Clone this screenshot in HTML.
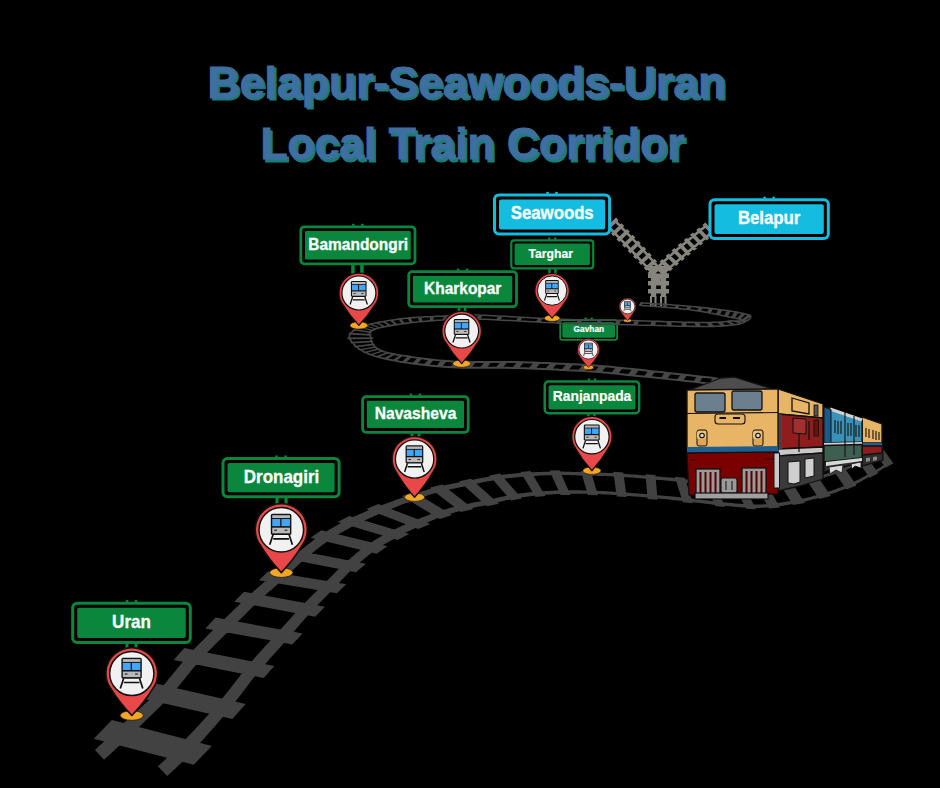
<!DOCTYPE html>
<html><head><meta charset="utf-8"><style>
html,body{margin:0;padding:0;background:#000;width:940px;height:788px;overflow:hidden}
svg{display:block;font-family:"Liberation Sans",sans-serif}
</style></head><body>
<svg width="940" height="788" viewBox="0 0 940 788">
<rect width="940" height="788" fill="#000"/>
<text x="209.7" y="100.4" font-size="44.5" textLength="518" lengthAdjust="spacingAndGlyphs" fill="#1c7d78" stroke="#1c7d78" stroke-width="1.1" font-family="Liberation Sans, sans-serif" font-weight="bold">Belapur-Seawoods-Uran</text>
<text x="262.7" y="162.1" font-size="44.5" textLength="424" lengthAdjust="spacingAndGlyphs" fill="#1c7d78" stroke="#1c7d78" stroke-width="1.1" font-family="Liberation Sans, sans-serif" font-weight="bold">Local Train Corridor</text>
<text x="207.5" y="97.6" font-size="44.5" textLength="518" lengthAdjust="spacingAndGlyphs" fill="#3d6fa0" stroke="#3d6fa0" stroke-width="1.1" font-family="Liberation Sans, sans-serif" font-weight="bold">Belapur-Seawoods-Uran</text>
<text x="260.5" y="159.3" font-size="44.5" textLength="424" lengthAdjust="spacingAndGlyphs" fill="#3d6fa0" stroke="#3d6fa0" stroke-width="1.1" font-family="Liberation Sans, sans-serif" font-weight="bold">Local Train Corridor</text>
<g font-family="Liberation Sans, sans-serif">
<path fill="#85857d" d="M609.8 226.1 L611 227.4 L612.6 229.1 L614.4 230.9 L616.5 233.1 L618.8 235.4 L621.1 237.8 L623.6 240.4 L626.1 243 L628.7 245.6 L631.1 248.2 L633.5 250.7 L635.8 253.2 L638 255.6 L640.4 258.1 L642.9 260.8 L645.4 263.6 L647.9 266.3 L650.3 269.1 L652.7 271.7 L654.9 274.2 L657 276.5 L658.8 278.5 L660.4 280.2 L661.6 281.6 L659.8 283.2 L658.5 281.9 L657 280.2 L655.1 278.1 L653.1 275.9 L650.8 273.4 L648.4 270.8 L646 268 L643.5 265.3 L640.9 262.6 L638.5 259.9 L636.1 257.3 L633.8 255 L631.6 252.6 L629.2 250 L626.8 247.5 L624.2 244.8 L621.7 242.2 L619.2 239.7 L616.9 237.2 L614.6 234.9 L612.5 232.8 L610.7 230.9 L609.1 229.3 L607.9 228Z M616.1 220 L617.4 221.3 L619 222.9 L620.8 224.8 L622.9 226.9 L625.1 229.3 L627.5 231.7 L630 234.3 L632.5 236.9 L635 239.5 L637.5 242.1 L639.9 244.6 L642.2 247 L644.4 249.5 L646.8 252.2 L649.3 255 L651.8 257.9 L654.3 260.8 L656.8 263.6 L659.2 266.4 L661.5 269 L663.5 271.4 L665.4 273.5 L667 275.3 L668.2 276.8 L666.4 278.4 L665.1 277 L663.5 275.1 L661.7 273 L659.6 270.6 L657.3 268 L654.9 265.3 L652.4 262.5 L649.9 259.6 L647.4 256.8 L644.9 254 L642.5 251.3 L640.2 248.8 L638 246.4 L635.6 243.9 L633.1 241.3 L630.6 238.7 L628.1 236.1 L625.6 233.5 L623.2 231.1 L621 228.8 L618.9 226.7 L617.1 224.8 L615.5 223.2 L614.2 221.9Z M605.4 227.7 L616 217.5 L618.6 220.3 L608 230.5Z M611 233.5 L621.6 223.3 L624.2 226 L613.6 236.2Z M616.5 239.2 L627.1 229 L629.8 231.7 L619.2 241.9Z M622.1 244.9 L632.7 234.7 L635.3 237.5 L624.7 247.7Z M627.6 250.7 L638.2 240.5 L640.8 243.3 L630.2 253.5Z M633.1 256.5 L643.7 246.4 L646.3 249.2 L635.7 259.3Z M638.5 262.2 L649.2 252.5 L651.7 255.4 L641 265Z M643.8 267.9 L654.6 258.7 L657.1 261.5 L646.3 270.8Z M649.1 273.7 L659.9 264.9 L662.4 267.7 L651.6 276.6Z M654.3 279.5 L665.3 271.1 L667.8 273.9 L656.8 282.3Z"/>
<path fill="#85857d" d="M706.8 226.8 L705.3 228 L703.6 229.4 L701.5 231.1 L699.2 233 L696.7 235.1 L694 237.3 L691.2 239.6 L688.4 241.9 L685.6 244.2 L682.9 246.5 L680.2 248.7 L677.8 250.8 L675.3 253 L672.7 255.3 L670 257.8 L667.3 260.2 L664.5 262.7 L661.8 265.2 L659.3 267.5 L656.8 269.8 L654.6 271.8 L652.6 273.7 L650.9 275.2 L649.5 276.5 L647.9 274.7 L649.2 273.4 L650.9 271.8 L652.9 270 L655.2 267.9 L657.6 265.6 L660.1 263.3 L662.8 260.8 L665.5 258.3 L668.3 255.8 L671 253.4 L673.6 251 L676 248.8 L678.5 246.7 L681.2 244.5 L683.9 242.2 L686.7 239.8 L689.5 237.5 L692.3 235.2 L695 233 L697.5 231 L699.8 229.1 L701.9 227.4 L703.7 225.9 L705.1 224.8Z M712.9 233.2 L711.5 234.4 L709.8 235.8 L707.7 237.5 L705.4 239.4 L702.9 241.5 L700.2 243.6 L697.4 245.9 L694.6 248.2 L691.8 250.6 L689.1 252.9 L686.4 255.1 L684 257.2 L681.5 259.2 L678.9 261.4 L676.3 263.7 L673.6 266.1 L670.9 268.4 L668.2 270.7 L665.7 273 L663.3 275.1 L661.1 277 L659.1 278.7 L657.5 280.2 L656.1 281.3 L654.5 279.5 L655.8 278.3 L657.5 276.9 L659.4 275.2 L661.6 273.2 L664 271.1 L666.5 268.8 L669.2 266.5 L671.9 264.1 L674.6 261.8 L677.2 259.5 L679.8 257.2 L682.2 255.2 L684.7 253.1 L687.3 250.8 L690.1 248.5 L692.9 246.2 L695.7 243.9 L698.5 241.6 L701.2 239.4 L703.7 237.3 L706 235.4 L708.1 233.7 L709.8 232.3 L711.2 231.2Z M705.3 222.5 L715.6 233.1 L712.7 235.5 L702.4 224.9Z M699.1 227.6 L709.4 238.2 L706.5 240.6 L696.2 230Z M692.9 232.6 L703.2 243.2 L700.3 245.6 L690 235Z M686.8 237.7 L697.1 248.3 L694.1 250.7 L683.8 240.1Z M680.6 242.8 L690.9 253.4 L688 255.9 L677.7 245.3Z M674.5 248.1 L684.8 258.5 L682 261 L671.6 250.6Z M668.4 253.6 L678.9 263.5 L676 266.1 L665.6 256.1Z M662.4 259.1 L673 268.6 L670.1 271.2 L659.5 261.7Z M656.3 264.8 L667.1 273.7 L664.3 276.3 L653.5 267.3Z M650.3 270.4 L661.2 278.8 L658.4 281.3 L647.5 273Z"/>
<path fill="#85857d" d="M656.2 268 L656.2 268.8 L656.2 269.9 L656.2 271.2 L656.2 272.6 L656.2 274.1 L656.2 275.8 L656.2 277.4 L656.2 279.1 L656.2 280.7 L656.2 282.3 L656.2 283.7 L656.2 285 L656.2 286.2 L656.2 287.4 L656.2 288.6 L656.2 289.8 L656.2 291 L656.2 292.1 L656.2 293.1 L656.2 294.1 L656.2 295 L656.2 295.8 L656.2 296.4 L656.2 297 L650.9 297 L650.9 296.4 L650.9 295.8 L650.9 295 L650.9 294.1 L650.9 293.1 L650.9 292.1 L650.9 291 L650.9 289.8 L650.9 288.6 L650.9 287.4 L650.9 286.2 L650.9 285 L650.9 283.7 L650.9 282.3 L650.9 280.7 L650.9 279.1 L650.9 277.4 L650.9 275.8 L650.9 274.1 L650.9 272.6 L650.9 271.2 L650.9 269.9 L650.9 268.8 L650.9 268Z M666.1 268 L666.1 268.8 L666.1 269.9 L666.1 271.2 L666.1 272.6 L666.1 274.1 L666.1 275.8 L666.1 277.4 L666.1 279.1 L666.1 280.7 L666.1 282.3 L666.1 283.7 L666.1 285 L666.1 286.2 L666.1 287.4 L666.1 288.6 L666.1 289.8 L666.1 291 L666.1 292.1 L666.1 293.1 L666.1 294.1 L666.1 295 L666.1 295.8 L666.1 296.4 L666.1 297 L660.8 297 L660.8 296.4 L660.8 295.8 L660.8 295 L660.8 294.1 L660.8 293.1 L660.8 292.1 L660.8 291 L660.8 289.8 L660.8 288.6 L660.8 287.4 L660.8 286.2 L660.8 285 L660.8 283.7 L660.8 282.3 L660.8 280.7 L660.8 279.1 L660.8 277.4 L660.8 275.8 L660.8 274.1 L660.8 272.6 L660.8 271.2 L660.8 269.9 L660.8 268.8 L660.8 268Z M648 265.8 L669 265.8 L669 270.2 L648 270.2Z M648 273.4 L669 273.4 L669 277.9 L648 277.9Z M648 281.1 L669 281.1 L669 285.6 L648 285.6Z M648 288.9 L669 288.9 L669 293.4 L648 293.4Z"/>
<path d="M651 296 V306.5 M655.5 296 V306.5 M661 296 V306.5 M665.5 296 V306.5" stroke="#85857d" stroke-width="2"/>
</g>
<g font-family="Liberation Sans, sans-serif">
<rect x="71.2" y="601.7" width="120.6" height="42.4" rx="6" fill="#0a873c"/>
<rect x="74.2" y="604.7" width="114.6" height="36.4" rx="3" fill="#000"/>
<rect x="77.2" y="607.7" width="108.6" height="30.4" rx="2" fill="#0a873c"/>
<text x="112.1" y="627.9" font-size="18.5" textLength="38.8" lengthAdjust="spacingAndGlyphs" fill="#fff" stroke="#fff" stroke-width="0.3" font-weight="bold">Uran</text>
<rect x="221.5" y="457.1" width="119.1" height="41.2" rx="6" fill="#0a873c"/>
<rect x="224.5" y="460.1" width="113.1" height="35.2" rx="3" fill="#000"/>
<rect x="227.5" y="463.1" width="107.1" height="29.2" rx="2" fill="#0a873c"/>
<text x="243.8" y="482.6" font-size="18.2" textLength="75.5" lengthAdjust="spacingAndGlyphs" fill="#fff" stroke="#fff" stroke-width="0.3" font-weight="bold">Dronagiri</text>
<rect x="361.2" y="395.2" width="108.4" height="38.5" rx="5" fill="#0a873c"/>
<rect x="364" y="398" width="102.8" height="32.9" rx="2.2" fill="#000"/>
<rect x="366.8" y="400.8" width="97.2" height="27.3" rx="1.4" fill="#0a873c"/>
<text x="374.7" y="418.9" font-size="16.7" textLength="81.7" lengthAdjust="spacingAndGlyphs" fill="#fff" stroke="#fff" stroke-width="0.3" font-weight="bold">Navasheva</text>
<rect x="543.5" y="380.2" width="96.9" height="34.3" rx="5" fill="#0a873c"/>
<rect x="546" y="382.7" width="91.9" height="29.3" rx="2.5" fill="#000"/>
<rect x="548.5" y="385.2" width="86.9" height="24.3" rx="2" fill="#0a873c"/>
<text x="552.8" y="401.2" font-size="14.2" textLength="78.5" lengthAdjust="spacingAndGlyphs" fill="#fff" stroke="#fff" stroke-width="0.2" font-weight="bold">Ranjanpada</text>
<rect x="407.3" y="270.2" width="110.6" height="37.9" rx="5" fill="#0a873c"/>
<rect x="410.1" y="273" width="105" height="32.3" rx="2.2" fill="#000"/>
<rect x="412.9" y="275.8" width="99.4" height="26.7" rx="1.4" fill="#0a873c"/>
<text x="424.1" y="293.5" font-size="16.3" textLength="77.3" lengthAdjust="spacingAndGlyphs" fill="#fff" stroke="#fff" stroke-width="0.3" font-weight="bold">Kharkopar</text>
<rect x="299.4" y="225.4" width="117" height="39.8" rx="5" fill="#0a873c"/>
<rect x="302.2" y="228.2" width="111.4" height="34.2" rx="2.2" fill="#000"/>
<rect x="305" y="231" width="105.8" height="28.6" rx="1.4" fill="#0a873c"/>
<text x="308.3" y="249.5" font-size="15.6" textLength="99.7" lengthAdjust="spacingAndGlyphs" fill="#fff" stroke="#fff" stroke-width="0.3" font-weight="bold">Bamandongri</text>
<rect x="510.2" y="239.2" width="84.1" height="30.2" rx="4" fill="#0a873c"/>
<rect x="512.4" y="241.4" width="79.7" height="25.8" rx="1.8" fill="#000"/>
<rect x="514.6" y="243.6" width="75.3" height="21.4" rx="1.6" fill="#0a873c"/>
<text x="528.5" y="257.7" font-size="12.8" textLength="44.4" lengthAdjust="spacingAndGlyphs" fill="#fff" stroke="#fff" stroke-width="0.2" font-weight="bold">Targhar</text>
<rect x="559.3" y="319.2" width="58.7" height="21.5" rx="3" fill="#0a873c"/>
<rect x="561.1" y="321" width="55.1" height="17.9" rx="1.2" fill="#000"/>
<rect x="562.3" y="322.2" width="52.7" height="15.5" rx="2" fill="#0a873c"/>
<text x="573.6" y="332.3" font-size="8.7" textLength="30.5" lengthAdjust="spacingAndGlyphs" fill="#fff" stroke="#fff" stroke-width="0.2" font-weight="bold">Gavhan</text>
<rect x="493" y="193.5" width="118.1" height="42.1" rx="6" fill="#14bde0"/>
<rect x="496" y="196.5" width="112.1" height="36.1" rx="3" fill="#000"/>
<rect x="499" y="199.5" width="106.1" height="30.1" rx="2" fill="#14bde0"/>
<text x="510.8" y="219.4" font-size="18" textLength="82.9" lengthAdjust="spacingAndGlyphs" fill="#fff" stroke="#fff" stroke-width="0.3" font-weight="bold">Seawoods</text>
<rect x="708.5" y="198.3" width="121.3" height="41.6" rx="6" fill="#14bde0"/>
<rect x="711.5" y="201.3" width="115.3" height="35.6" rx="3" fill="#000"/>
<rect x="714.5" y="204.3" width="109.3" height="29.6" rx="2" fill="#14bde0"/>
<text x="737.9" y="224.1" font-size="18.6" textLength="62.5" lengthAdjust="spacingAndGlyphs" fill="#fff" stroke="#fff" stroke-width="0.3" font-weight="bold">Belapur</text>
<rect x="125.5" y="644" width="3" height="6" fill="#0a873c"/><rect x="134.5" y="644" width="3" height="6" fill="#0a873c"/>
<rect x="275.4" y="498" width="3.2" height="7" fill="#0a873c"/><rect x="284.4" y="498" width="3.2" height="7" fill="#0a873c"/>
<rect x="410.5" y="433.5" width="3" height="4.5" fill="#0a873c"/><rect x="417.5" y="433.5" width="3" height="4.5" fill="#0a873c"/>
<rect x="587.2" y="414" width="2.5" height="4" fill="#0a873c"/><rect x="593.2" y="414" width="2.5" height="4" fill="#0a873c"/>
<rect x="457.8" y="308" width="2.5" height="4" fill="#0a873c"/><rect x="463.8" y="308" width="2.5" height="4" fill="#0a873c"/>
<rect x="351.2" y="265" width="3.5" height="9" fill="#0a873c"/><rect x="360.2" y="265" width="3.5" height="9" fill="#0a873c"/>
<rect x="548.2" y="269" width="2.5" height="5" fill="#0a873c"/><rect x="554.2" y="269" width="2.5" height="5" fill="#0a873c"/>
<rect x="125.8" y="600.1" width="2.5" height="2" fill="#0a873c"/><rect x="134.8" y="600.1" width="2.5" height="2" fill="#0a873c"/>
<rect x="275.3" y="455.5" width="2.5" height="2" fill="#0a873c"/><rect x="284.3" y="455.5" width="2.5" height="2" fill="#0a873c"/>
<rect x="409.6" y="393.6" width="2.5" height="2" fill="#0a873c"/><rect x="418.6" y="393.6" width="2.5" height="2" fill="#0a873c"/>
<rect x="587.7" y="378.6" width="2.5" height="2" fill="#0a873c"/><rect x="593.7" y="378.6" width="2.5" height="2" fill="#0a873c"/>
<rect x="456.9" y="268.6" width="2.5" height="2" fill="#0a873c"/><rect x="465.9" y="268.6" width="2.5" height="2" fill="#0a873c"/>
<rect x="352.1" y="223.8" width="2.5" height="2" fill="#0a873c"/><rect x="361.1" y="223.8" width="2.5" height="2" fill="#0a873c"/>
<rect x="548" y="237.6" width="2.5" height="2" fill="#0a873c"/><rect x="554" y="237.6" width="2.5" height="2" fill="#0a873c"/>
<rect x="584.4" y="317.6" width="2.5" height="2" fill="#0a873c"/><rect x="590.4" y="317.6" width="2.5" height="2" fill="#0a873c"/>
<rect x="546.3" y="191.9" width="2.5" height="2" fill="#14bde0"/><rect x="555.3" y="191.9" width="2.5" height="2" fill="#14bde0"/>
<rect x="763.4" y="196.7" width="2.5" height="2" fill="#14bde0"/><rect x="772.4" y="196.7" width="2.5" height="2" fill="#14bde0"/>
</g>
<path fill="#474747" d="M712.3 384.8 L708.6 384.4 L703.9 383.9 L698.3 383.3 L692.1 382.6 L685.3 381.9 L678.2 381.1 L670.9 380.3 L663.6 379.6 L656.5 378.8 L649.7 378.1 L643.3 377.4 L637.6 376.9 L632.6 376.4 L627.9 375.9 L623.5 375.4 L619.4 375 L615.4 374.6 L611.5 374.2 L607.6 373.8 L603.6 373.5 L599.5 373.1 L595.1 372.8 L590.5 372.5 L585.5 372.1 L580.1 371.8 L574.4 371.5 L568.4 371.2 L562.2 370.9 L555.8 370.6 L549.4 370.3 L543 370 L536.5 369.8 L530.2 369.5 L524 369.3 L518.1 369.1 L512.4 369 L506.9 368.8 L501.6 368.7 L496.4 368.7 L491.3 368.7 L486.3 368.7 L481.3 368.8 L476.5 368.8 L471.6 368.8 L466.9 368.8 L462.2 368.7 L457.6 368.5 L452.9 368.3 L448.2 368 L443.5 367.7 L438.8 367.3 L434.1 366.9 L429.6 366.4 L425 366 L420.6 365.5 L416.3 364.9 L412.2 364.4 L408.2 363.8 L404.3 363.3 L400.7 362.7 L397 362 L393.4 361.3 L390 360.7 L386.7 360 L383.6 359.3 L380.6 358.5 L377.7 357.8 L374.9 357 L372.3 356.1 L369.8 355.2 L367.5 354.3 L365.2 353.3 L363.1 352.2 L361 351 L359.1 349.8 L357.3 348.4 L355.7 347.1 L354.2 345.7 L352.9 344.3 L351.6 342.9 L350.6 341.5 L349.6 340.2 L348.8 338.9 L348.2 337.6 L348.5 336.5 L348.9 335.3 L349.4 334.2 L350.1 333.1 L350.9 332.1 L351.9 331 L353.1 330.1 L354.4 329.1 L355.9 328.2 L357.6 327.3 L359.6 326.5 L361.7 325.6 L364.1 324.9 L366.8 324.1 L369.8 323.4 L373 322.7 L376.3 322 L379.9 321.3 L383.5 320.7 L387.2 320 L391 319.4 L394.8 318.9 L398.6 318.3 L402.3 317.8 L405.9 317.4 L409.7 317.1 L413.6 316.8 L417.6 316.5 L421.6 316.3 L425.7 316.1 L429.7 315.9 L433.7 315.7 L437.6 315.5 L441.3 315.4 L444.9 315.3 L448.2 315.1 L450.9 315 L453.1 314.8 L455 314.6 L456.6 314.5 L458.1 314.4 L459.6 314.3 L461.4 314.2 L463.4 314.1 L465.9 314.1 L468.9 314.1 L472.7 314.2 L477.3 314.3 L482.9 314.5 L489.5 314.8 L496.8 315.2 L504.7 315.6 L513.1 316 L521.8 316.5 L530.5 316.9 L539.2 317.4 L547.7 317.8 L555.7 318.2 L563.1 318.6 L569.8 318.8 L575.8 319 L581.2 319.2 L586.2 319.3 L590.8 319.3 L595.2 319.4 L599.5 319.4 L603.7 319.4 L608 319.4 L612.4 319.4 L617 319.5 L621.9 319.5 L627.3 319.6 L633 319.8 L639.1 320 L645.6 320.2 L652.3 320.4 L659.2 320.6 L666.1 320.9 L672.9 321.1 L679.6 321.3 L685.9 321.4 L691.8 321.6 L697.1 321.7 L701.8 321.7 L705.9 321.7 L709.5 321.7 L712.7 321.6 L715.6 321.5 L718.1 321.4 L720.4 321.3 L722.5 321.1 L724.3 320.9 L726.1 320.7 L727.7 320.5 L729.3 320.3 L730.9 320.1 L732.7 320.2 L734.4 320.2 L736 320.3 L737.5 320.3 L738.8 320.3 L740 320.3 L741 320.3 L741.8 320.3 L742.3 320.3 L742.6 320.5 L742.7 320.8 L742.7 321.3 L742.7 321.2 L742.5 321 L741.9 320.7 L741.2 320.4 L740.2 320.1 L739 319.8 L737.6 319.4 L736 319.1 L734.3 318.7 L732.4 318.4 L730.4 318 L728.3 317.6 L725.8 317 L723.2 316.4 L720.3 315.8 L717.3 315.2 L714.1 314.6 L710.7 313.9 L707.3 313.3 L703.8 312.7 L700.1 312.1 L696.5 311.5 L692.8 310.9 L689.1 310.3 L685.2 309.9 L680.8 309.5 L676.2 309 L671.4 308.6 L666.5 308.2 L661.6 307.8 L656.9 307.4 L652.5 307 L648.4 306.7 L644.7 306.4 L641.6 306.2 L639.1 305.9 L639.3 304.5 L641.7 304.7 L644.8 304.9 L648.5 305.2 L652.6 305.5 L657 305.9 L661.8 306.3 L666.6 306.7 L671.5 307.1 L676.3 307.5 L680.9 308 L685.3 308.4 L689.3 308.9 L693 309.4 L696.7 309.9 L700.3 310.5 L704 311.1 L707.5 311.8 L711 312.4 L714.3 313 L717.5 313.7 L720.6 314.3 L723.4 314.9 L726.1 315.5 L728.5 316 L730.7 316.4 L732.7 316.8 L734.6 317.2 L736.3 317.5 L737.9 317.9 L739.3 318.2 L740.6 318.5 L741.6 318.9 L742.5 319.2 L743.2 319.6 L743.7 320 L744.1 320.5 L744.2 321 L743.9 321.4 L743.3 321.6 L742.5 321.7 L741.6 321.8 L740.5 321.8 L739.3 321.8 L737.9 321.8 L736.3 321.8 L734.7 321.8 L732.9 321.8 L731.1 321.7 L729.5 321.9 L727.9 322.1 L726.3 322.3 L724.5 322.5 L722.6 322.7 L720.5 322.9 L718.2 323 L715.6 323.1 L712.8 323.2 L709.5 323.3 L705.9 323.3 L701.8 323.3 L697.1 323.3 L691.7 323.2 L685.8 323 L679.5 322.8 L672.9 322.6 L666.1 322.4 L659.2 322.2 L652.3 321.9 L645.5 321.7 L639 321.5 L632.9 321.3 L627.3 321.1 L621.9 321 L617 321 L612.3 320.9 L608 320.9 L603.7 320.9 L599.5 320.9 L595.2 320.9 L590.8 320.8 L586.1 320.8 L581.1 320.7 L575.7 320.5 L569.7 320.3 L563.1 320.1 L555.6 319.7 L547.6 319.3 L539.1 318.9 L530.5 318.4 L521.7 318 L513 317.5 L504.7 317.1 L496.7 316.7 L489.4 316.3 L482.8 316 L477.3 315.8 L472.7 315.7 L468.9 315.6 L465.9 315.6 L463.4 315.6 L461.4 315.7 L459.7 315.8 L458.2 315.9 L456.7 316 L455.1 316.1 L453.2 316.3 L451 316.5 L448.3 316.6 L444.9 316.8 L441.4 316.9 L437.6 317.1 L433.8 317.2 L429.8 317.4 L425.8 317.6 L421.7 317.8 L417.7 318.1 L413.7 318.4 L409.9 318.7 L406.1 319 L402.5 319.4 L398.8 319.9 L395.1 320.4 L391.3 321 L387.5 321.6 L383.8 322.2 L380.2 322.9 L376.7 323.6 L373.3 324.3 L370.2 325 L367.2 325.7 L364.6 326.4 L362.3 327.2 L360.2 328 L358.4 328.8 L356.8 329.6 L355.4 330.4 L354.2 331.2 L353.2 332 L352.3 332.8 L351.6 333.6 L351 334.5 L350.5 335.4 L350.1 336.4 L349.7 337.4 L350.4 338.4 L351.1 339.6 L352 340.8 L353 342.1 L354.2 343.3 L355.5 344.7 L356.9 346 L358.4 347.3 L360.1 348.5 L361.9 349.7 L363.9 350.8 L366 351.9 L368.1 352.8 L370.4 353.7 L372.8 354.6 L375.4 355.4 L378.1 356.1 L381 356.9 L384 357.6 L387.1 358.3 L390.4 358.9 L393.8 359.6 L397.3 360.3 L400.9 360.9 L404.6 361.5 L408.4 362 L412.4 362.6 L416.6 363.1 L420.9 363.6 L425.3 364.1 L429.7 364.5 L434.3 365 L439 365.4 L443.6 365.7 L448.3 366 L453.1 366.3 L457.6 366.5 L462.2 366.7 L466.9 366.8 L471.6 366.8 L476.4 366.8 L481.3 366.8 L486.3 366.7 L491.3 366.7 L496.4 366.7 L501.6 366.7 L507 366.8 L512.4 367 L518.1 367.1 L524.1 367.3 L530.3 367.5 L536.6 367.8 L543 368 L549.5 368.3 L555.9 368.6 L562.3 368.9 L568.5 369.2 L574.5 369.5 L580.2 369.8 L585.6 370.2 L590.6 370.5 L595.3 370.8 L599.6 371.1 L603.8 371.5 L607.8 371.8 L611.7 372.2 L615.6 372.6 L619.6 373 L623.7 373.4 L628.1 373.9 L632.8 374.4 L637.8 374.9 L643.5 375.4 L649.9 376.1 L656.7 376.8 L663.9 377.6 L671.2 378.4 L678.4 379.1 L685.5 379.9 L692.3 380.6 L698.5 381.3 L704.1 381.9 L708.8 382.4 L712.5 382.8Z M715.5 379.2 L711.9 378.8 L707.3 378.3 L701.8 377.7 L695.7 377 L689.1 376.2 L682.1 375.5 L674.9 374.7 L667.7 373.9 L660.7 373.1 L654 372.4 L647.7 371.7 L642.2 371.1 L637.1 370.6 L632.5 370.1 L628.1 369.6 L624 369.2 L620.1 368.8 L616.2 368.4 L612.3 368 L608.4 367.6 L604.3 367.3 L600 366.9 L595.4 366.6 L590.4 366.2 L585 365.9 L579.3 365.6 L573.4 365.3 L567.2 365 L560.9 364.7 L554.5 364.4 L548.1 364.1 L541.7 363.9 L535.4 363.6 L529.2 363.4 L523.3 363.2 L517.6 363 L512.1 362.9 L506.7 362.9 L501.3 362.9 L496.1 362.9 L491 363 L485.9 363 L481 363.1 L476.1 363.1 L471.2 363.1 L466.4 363 L461.7 362.9 L456.9 362.7 L452.4 362.4 L447.9 362.1 L443.4 361.7 L438.9 361.3 L434.6 360.8 L430.2 360.4 L426 359.9 L421.9 359.3 L418 358.8 L414.2 358.2 L410.5 357.7 L407.1 357.1 L403.9 356.6 L400.9 356.1 L398 355.7 L395.3 355.2 L392.7 354.7 L390.2 354.1 L387.8 353.6 L385.6 353 L383.5 352.3 L381.5 351.6 L379.7 350.9 L378 350.1 L376.6 349.3 L375.3 348.3 L374.1 347.3 L373.1 346.3 L372.3 345.2 L371.5 344 L371 342.9 L370.5 341.8 L370.3 340.7 L370.1 339.6 L370.1 338.6 L370.3 337.6 L369.7 336.8 L369.2 335.9 L368.9 335.1 L368.7 334.2 L368.7 333.4 L368.8 332.7 L369.1 332 L369.6 331.3 L370.3 330.6 L371.3 330 L372.4 329.4 L373.7 328.8 L375.4 328.2 L377.4 327.6 L379.6 327 L382 326.4 L384.7 325.9 L387.5 325.3 L390.4 324.8 L393.4 324.3 L396.4 323.8 L399.5 323.4 L402.5 323 L405.5 322.6 L408.7 322.2 L412 321.8 L415.4 321.4 L419 321 L422.5 320.7 L426.1 320.4 L429.6 320.1 L433.1 319.9 L436.5 319.6 L439.7 319.4 L442.8 319.2 L445.7 319 L448.4 318.8 L450.6 318.6 L452.4 318.5 L454 318.3 L455.5 318.2 L457.1 318.1 L458.8 318 L460.9 317.9 L463.3 317.9 L466.4 318 L470.1 318 L474.7 318.2 L480.4 318.4 L486.9 318.6 L494.2 319 L502.2 319.4 L510.6 319.8 L519.2 320.3 L528 320.8 L536.7 321.2 L545.1 321.7 L553.1 322.1 L560.6 322.4 L567.3 322.7 L573.2 322.9 L578.6 323.1 L583.6 323.2 L588.3 323.3 L592.7 323.4 L597 323.4 L601.2 323.5 L605.4 323.5 L609.8 323.6 L614.4 323.7 L619.4 323.8 L624.7 323.9 L630.8 324 L637.4 324.2 L644.3 324.4 L651.5 324.6 L658.8 324.8 L666.1 325 L673.3 325.2 L680.4 325.4 L687.1 325.5 L693.4 325.6 L699.1 325.7 L704.2 325.7 L708.7 325.6 L712.8 325.6 L716.5 325.4 L719.8 325.3 L722.9 325.1 L725.6 324.9 L728.1 324.6 L730.5 324.4 L732.7 324.1 L734.8 323.9 L736.8 323.6 L738.9 323.3 L740.6 322.7 L742.3 322.1 L743.8 321.5 L745.2 320.8 L746.5 320.2 L747.6 319.5 L748.5 318.8 L749.3 318.2 L749.7 317.5 L749.9 317 L749.9 316.7 L749.9 316.5 L749.6 316.3 L749 316 L748.1 315.7 L747 315.3 L745.7 314.9 L744.2 314.6 L742.4 314.2 L740.5 313.7 L738.5 313.3 L736.3 312.9 L733.9 312.4 L731.5 312 L728.9 311.6 L726.1 311.2 L723.1 310.8 L719.9 310.4 L716.6 310 L713.1 309.5 L709.6 309.1 L705.9 308.7 L702.1 308.3 L698.3 307.9 L694.5 307.5 L690.7 307.1 L686.8 306.8 L682.4 306.4 L677.8 306 L673 305.7 L668.1 305.3 L663.2 305 L658.5 304.7 L654.1 304.4 L650 304.1 L646.3 303.9 L643.2 303.7 L640.7 303.5 L640.9 302.1 L643.3 302.2 L646.4 302.4 L650.1 302.6 L654.2 302.9 L658.6 303.2 L663.4 303.5 L668.2 303.8 L673.1 304.2 L677.9 304.5 L682.5 304.9 L686.9 305.3 L690.9 305.7 L694.7 306 L698.5 306.3 L702.3 306.7 L706.1 307.1 L709.8 307.6 L713.4 308 L716.9 308.4 L720.2 308.9 L723.4 309.3 L726.4 309.7 L729.2 310.1 L731.7 310.4 L734.2 310.9 L736.6 311.3 L738.8 311.8 L740.9 312.2 L742.8 312.6 L744.5 313 L746.1 313.4 L747.5 313.8 L748.7 314.2 L749.7 314.6 L750.6 315.1 L751.3 315.7 L751.5 316.9 L751.2 318 L750.7 318.8 L750 319.6 L749.1 320.3 L748.1 321 L746.9 321.7 L745.6 322.4 L744.1 323 L742.6 323.7 L740.9 324.3 L739.1 324.9 L737.1 325.2 L735 325.5 L732.9 325.7 L730.6 326 L728.3 326.2 L725.7 326.5 L723 326.7 L719.9 326.9 L716.6 327 L712.9 327.2 L708.7 327.2 L704.2 327.3 L699.1 327.3 L693.3 327.2 L687 327.1 L680.3 326.9 L673.3 326.7 L666.1 326.5 L658.7 326.3 L651.4 326.1 L644.3 325.9 L637.4 325.7 L630.8 325.5 L624.7 325.4 L619.3 325.2 L614.4 325.2 L609.8 325.1 L605.4 325 L601.2 325 L596.9 324.9 L592.7 324.9 L588.3 324.8 L583.6 324.7 L578.6 324.6 L573.2 324.4 L567.2 324.2 L560.5 323.9 L553.1 323.6 L545 323.2 L536.6 322.7 L527.9 322.3 L519.2 321.8 L510.5 321.3 L502.1 320.9 L494.2 320.5 L486.8 320.1 L480.3 319.9 L474.7 319.7 L470.1 319.5 L466.4 319.5 L463.3 319.4 L460.9 319.4 L458.9 319.5 L457.2 319.6 L455.6 319.7 L454.1 319.8 L452.5 320 L450.7 320.1 L448.5 320.3 L445.8 320.5 L442.9 320.7 L439.8 320.9 L436.6 321.1 L433.2 321.4 L429.7 321.7 L426.2 322 L422.6 322.3 L419.1 322.6 L415.6 322.9 L412.1 323.3 L408.8 323.7 L405.7 324.2 L402.7 324.6 L399.7 325 L396.7 325.4 L393.6 325.9 L390.7 326.4 L387.8 326.9 L385 327.4 L382.4 328 L380 328.6 L377.8 329.1 L375.9 329.7 L374.3 330.4 L373 330.9 L372 331.4 L371.2 332 L370.6 332.6 L370.3 333.1 L370.1 333.7 L370.1 334.2 L370.2 334.8 L370.5 335.3 L370.8 336 L371.3 336.6 L371.8 337.4 L371.6 338.1 L371.6 339 L371.7 339.9 L371.9 340.9 L372.3 342 L372.8 343 L373.4 344.1 L374.2 345.1 L375.1 346.1 L376.2 347 L377.4 347.9 L378.8 348.7 L380.4 349.4 L382.1 350.1 L384 350.8 L386 351.4 L388.2 351.9 L390.6 352.5 L393 353 L395.6 353.5 L398.4 353.9 L401.2 354.4 L404.2 354.9 L407.3 355.3 L410.8 355.9 L414.4 356.4 L418.2 357 L422.2 357.5 L426.3 358 L430.5 358.5 L434.7 358.9 L439.1 359.4 L443.6 359.8 L448 360.1 L452.5 360.4 L457.1 360.7 L461.7 360.9 L466.5 361 L471.2 361.1 L476.1 361.1 L481 361.1 L485.9 361 L491 361 L496.1 360.9 L501.3 360.9 L506.7 360.9 L512.1 360.9 L517.6 361 L523.3 361.2 L529.3 361.4 L535.4 361.6 L541.8 361.9 L548.2 362.1 L554.6 362.4 L561 362.7 L567.3 363 L573.5 363.3 L579.4 363.6 L585.1 363.9 L590.5 364.3 L595.5 364.6 L600.1 364.9 L604.5 365.3 L608.6 365.6 L612.5 366 L616.4 366.4 L620.3 366.8 L624.2 367.2 L628.4 367.7 L632.7 368.1 L637.3 368.6 L642.4 369.1 L647.9 369.7 L654.2 370.4 L660.9 371.1 L667.9 371.9 L675.1 372.7 L682.3 373.5 L689.3 374.2 L695.9 375 L702.1 375.7 L707.5 376.3 L712.1 376.8 L715.7 377.2Z M709 384.2 L713 377.2 L719 377.8 L715 384.8Z M692.8 382.4 L697.2 375.4 L703.4 376.1 L699 383.1Z M676.5 380.6 L681.2 373.6 L687.6 374.3 L682.9 381.3Z M660.1 378.9 L665.1 371.9 L671.7 372.6 L666.7 379.6Z M643.6 377.1 L648.9 370.1 L655.7 370.9 L650.4 377.9Z M627.1 375.5 L632.6 368.4 L639.6 369.2 L634 376.2Z M610.6 373.8 L616.3 366.7 L623.3 367.4 L617.5 374.5Z M594 372.4 L599.9 365.3 L606.9 365.8 L601 372.9Z M577.5 371.3 L583.5 364.1 L590.5 364.6 L584.5 371.8Z M561 370.5 L567.1 363.3 L574.1 363.6 L568 370.8Z M544.5 369.7 L550.7 362.5 L557.7 362.8 L551.5 370Z M527.9 369.1 L534.2 361.9 L541.2 362.2 L534.9 369.4Z M511.4 368.6 L517.8 361.4 L524.8 361.6 L518.4 368.8Z M495.1 368.4 L501.2 361.2 L508.1 361.2 L502 368.4Z M479.4 368.5 L485.1 361.3 L491.9 361.3 L486.1 368.4Z M464.3 368.4 L469.6 361.4 L476.3 361.4 L470.9 368.5Z M449.8 367.9 L454.9 360.9 L461.4 361.2 L456.3 368.2Z M435.8 366.8 L441.5 359.8 L447.4 360.3 L441.7 367.3Z M423 365.5 L429.5 358.5 L434.7 359.1 L428.3 366.1Z M411.5 364.1 L418.6 357.1 L423.3 357.8 L416.1 364.8Z M401 362.6 L408.8 355.6 L412.9 356.3 L405.2 363.3Z M391.3 360.9 L400.6 354.4 L404.2 355 L395 361.5Z M382.5 359 L393.5 353.1 L396.7 353.8 L385.7 359.7Z M374.8 356.9 L387.6 351.7 L390.3 352.5 L377.5 357.7Z M368.1 354.7 L382.6 350.2 L384.9 351 L370.3 355.6Z M362.6 352.2 L378.8 348.3 L380.5 349.3 L364.3 353.2Z M357.9 349.4 L376.1 346.2 L377.6 347.4 L359.5 350.6Z M353.8 345.9 L374 343.6 L375.2 345.1 L355 347.4Z M350.1 342 L372.7 340.6 L373.6 342.2 L351.1 343.6Z M347.4 337.5 L372.7 337.3 L373 339.1 L347.7 339.3Z M349 332.8 L371.7 334 L371.1 335.8 L348.4 334.6Z M353.7 329.1 L372.5 331.7 L371 332.9 L352.2 330.2Z M359 326.6 L375 330.2 L373.2 331 L357.2 327.4Z M364.3 324.9 L378.3 329.1 L376.2 329.6 L362.3 325.4Z M370 323.5 L382.2 328 L380 328.4 L367.8 323.9Z M376.5 322.1 L386.9 326.9 L384.6 327.4 L374.1 322.6Z M383.7 320.8 L392.4 325.9 L389.8 326.4 L381.2 321.2Z M391.8 319.5 L398.5 325 L395.8 325.4 L389 319.9Z M400.7 318.2 L405.4 324.1 L402.4 324.4 L397.8 318.6Z M410.3 317.2 L413.3 323 L410.1 323.3 L407.2 317.6Z M421.2 316.6 L422.6 322 L419.2 322.3 L417.9 316.8Z M433.9 316 L433.4 321.1 L429.8 321.3 L430.2 316.2Z M448.5 315.5 L445.9 320.1 L441.9 320.3 L444.6 315.7Z M464.5 314.5 L461.5 319 L457.2 319.1 L460.2 314.6Z M483.1 315 L480.1 319.5 L475.6 319.3 L478.6 314.8Z M503 315.9 L500 320.4 L495.6 320.2 L498.6 315.7Z M523 316.9 L520 321.4 L515.5 321.2 L518.5 316.7Z M543 318 L540 322.5 L535.5 322.3 L538.5 317.8Z M563 319 L560 323.5 L555.5 323.3 L558.5 318.8Z M583 319.6 L580 324.2 L575.5 324.1 L578.5 319.5Z M602.6 319.8 L599.6 324.6 L595.1 324.5 L598.1 319.8Z M621.6 319.9 L618.6 324.9 L614.1 324.8 L617.1 319.8Z M639.5 320.3 L637.3 325.3 L632.8 325.2 L634.9 320.2Z M656.1 320.9 L655.2 325.9 L650.5 325.7 L651.4 320.7Z M671.4 321.4 L671.7 326.4 L666.9 326.2 L666.7 321.2Z M685.7 321.8 L687 326.8 L682.2 326.6 L680.9 321.6Z M698.9 322 L701.3 327 L696.4 326.9 L693.9 321.9Z M710.5 322 L714.5 326.8 L709.8 326.9 L705.8 322.1Z M720.3 321.6 L726.4 326.1 L722.3 326.4 L716.2 321.9Z M728 320.8 L736.6 325 L733.2 325.4 L724.6 321.2Z M734.3 320.5 L744.1 323.2 L741.2 323.7 L731.3 321Z M740.1 320.7 L749.7 320.1 L746.8 321 L737.3 321.6Z M740.8 320.3 L749.1 314.1 L751.8 315.6 L743.5 321.7Z M736.3 319.1 L742.6 312.6 L746.1 313.4 L739.7 319.9Z M730.4 317.9 L735.3 311.1 L739 311.8 L734.1 318.7Z M723.5 316.5 L727.3 309.8 L731.2 310.5 L727.4 317.2Z M715.5 314.8 L718.8 308.8 L722.8 309.4 L719.4 315.4Z M706.5 313 L709.4 307.7 L713.4 308.3 L710.5 313.6Z M696.6 311.3 L699.1 306.6 L703 307.1 L700.6 311.8Z M685.8 309.7 L687.8 305.7 L691.8 306.1 L689.8 310.1Z M674 308.5 L676 304.7 L679.7 305 L677.7 308.8Z M662.1 307.4 L664.1 303.9 L667.7 304.2 L665.7 307.7Z M650.3 306.5 L652.3 303.2 L655.6 303.4 L653.6 306.7Z M638.4 305.5 L640.4 302.4 L643.5 302.7 L641.5 305.7Z"/>
<path fill="#424242" d="M94.9 749.9 L95.9 749 L97.1 747.9 L98.5 746.6 L99.9 745.3 L101.6 743.8 L103.3 742.2 L105.2 740.4 L107.2 738.5 L109.4 736.5 L111.7 734.3 L114.1 731.9 L116.6 729.5 L119.5 726.9 L122.7 724 L126.1 721 L129.7 717.7 L133.5 714.3 L137.3 710.8 L141.1 707.3 L144.9 703.7 L148.7 700.2 L152.3 696.7 L155.7 693.4 L159 690.2 L161.9 687 L164.6 683.9 L167.3 680.8 L169.9 677.6 L172.5 674.5 L175 671.4 L177.5 668.3 L180 665.2 L182.5 662.2 L185.1 659.2 L187.6 656.2 L190.2 653.2 L192.9 650.4 L195.6 647.5 L198.3 644.8 L201 642 L203.7 639.4 L206.3 636.7 L209 634.1 L211.6 631.6 L214.1 629.1 L216.7 626.6 L219.1 624.2 L221.6 621.8 L224 619.5 L226.4 617.1 L228.8 614.8 L231.1 612.5 L233.4 610.3 L235.7 608.1 L238 605.9 L240.2 603.7 L242.4 601.6 L244.7 599.5 L246.9 597.5 L249.1 595.5 L251.2 593.5 L253.3 591.6 L255.4 589.8 L257.4 588 L259.5 586.2 L261.5 584.5 L263.5 582.8 L265.4 581.1 L267.4 579.4 L269.4 577.7 L271.3 576 L273.3 574.3 L275.3 572.5 L277.3 570.7 L279.3 568.9 L281.3 567.1 L283.3 565.2 L285.3 563.4 L287.4 561.6 L289.4 559.8 L291.5 558 L293.5 556.2 L295.6 554.5 L297.7 552.7 L299.9 551 L302 549.2 L304.2 547.5 L306.3 545.8 L308.5 544.1 L310.7 542.4 L312.9 540.7 L315.1 539.1 L317.4 537.5 L319.6 535.9 L321.8 534.4 L324.1 532.9 L326.3 531.5 L328.6 530.1 L330.8 528.8 L333 527.5 L335.3 526.2 L337.5 525 L339.7 523.8 L341.9 522.7 L344.2 521.5 L346.4 520.4 L348.6 519.3 L350.8 518.2 L353.1 517.1 L355.4 516 L357.7 515 L360 514 L362.2 513 L364.5 512 L366.8 511.1 L369.1 510.1 L371.5 509.1 L373.8 508.2 L376.3 507.2 L378.7 506.3 L381.4 505.3 L384.1 504.2 L386.9 503.2 L389.8 502.2 L392.6 501.2 L395.5 500.1 L398.4 499.1 L401.3 498.1 L404.1 497.2 L406.9 496.2 L409.7 495.3 L412.4 494.5 L414.7 493.7 L417 492.9 L419.3 492.2 L421.5 491.5 L423.6 490.9 L425.8 490.3 L427.9 489.6 L430.1 489 L432.3 488.4 L434.5 487.9 L436.7 487.3 L439.1 486.7 L441.4 486.1 L443.7 485.6 L446.1 485 L448.5 484.5 L451 484 L453.4 483.5 L455.8 483 L458.3 482.5 L460.7 482.1 L463.1 481.6 L465.5 481.1 L467.9 480.6 L470.3 480.2 L472.7 479.7 L475.1 479.2 L477.5 478.8 L479.9 478.3 L482.3 477.8 L484.7 477.4 L487.1 476.9 L489.5 476.5 L491.9 476.1 L494.3 475.7 L496.8 475.4 L499.3 475 L501.8 474.7 L504.4 474.5 L506.9 474.2 L509.4 474 L512 473.7 L514.5 473.5 L517.1 473.3 L519.6 473.1 L522.1 472.9 L524.6 472.8 L527.2 472.6 L529.5 472.5 L531.9 472.3 L534.3 472.2 L536.6 472.1 L539 472 L541.4 471.9 L543.7 471.8 L546.1 471.7 L548.5 471.7 L550.9 471.6 L553.3 471.6 L555.8 471.6 L558.3 471.6 L560.8 471.6 L563.4 471.6 L565.9 471.7 L568.5 471.7 L571.1 471.8 L573.7 471.9 L576.3 472 L578.9 472.1 L581.5 472.2 L584.2 472.3 L586.8 472.4 L589.4 472.4 L592 472.5 L594.7 472.5 L597.3 472.6 L600 472.7 L602.7 472.7 L605.3 472.8 L608 472.9 L610.7 473 L613.4 473.1 L616.1 473.3 L618.8 473.4 L621.5 473.6 L624.1 473.8 L626.8 474 L629.4 474.2 L632.1 474.4 L634.8 474.6 L637.4 474.8 L640.1 475.1 L642.8 475.3 L645.5 475.5 L648.2 475.8 L650.9 476 L653.4 476.2 L655.9 476.4 L658.4 476.6 L660.9 476.8 L663.4 477 L665.9 477.2 L668.4 477.4 L671 477.6 L673.5 477.8 L676 478.1 L678.5 478.3 L681 478.5 L683.5 478.9 L686.1 479.2 L688.7 479.6 L691.3 479.9 L693.8 480.3 L696.4 480.7 L698.9 481 L701.4 481.4 L703.9 481.8 L706.4 482.1 L708.9 482.4 L711.4 482.8 L713.9 483.1 L716.4 483.4 L719 483.8 L721.5 484.1 L724 484.4 L726.5 484.7 L729 485 L731.4 485.3 L733.8 485.6 L736.1 485.8 L738.4 486 L740.5 486.1 L742.6 486.3 L744.6 486.4 L746.6 486.4 L748.5 486.5 L750.3 486.5 L752.1 486.5 L753.9 486.5 L755.6 486.4 L757.4 486.4 L759.2 486.3 L761 486.2 L762.9 486 L764.8 485.9 L766.7 485.7 L768.6 485.6 L770.6 485.3 L772.5 485.1 L774.4 484.9 L776.4 484.6 L778.3 484.3 L780.3 484 L782.3 483.7 L784.3 483.3 L786.4 483 L788.4 482.6 L790.6 482.2 L792.7 481.8 L794.8 481.4 L797 481 L799.1 480.5 L801.3 480.1 L803.5 479.6 L805.7 479.1 L807.8 478.6 L810 478 L812.2 477.4 L814.5 476.9 L816.8 476.3 L819.1 475.7 L821.4 475.1 L823.7 474.4 L826.1 473.7 L828.4 473 L830.7 472.3 L833 471.6 L835.2 470.9 L837.4 470.1 L839.5 469.4 L841.6 468.6 L843.7 467.8 L845.7 467 L847.8 466.1 L849.8 465.3 L851.8 464.4 L853.8 463.5 L855.7 462.6 L857.5 461.8 L859.4 460.9 L861.1 460.1 L862.8 459.3 L864.5 458.6 L866.1 457.8 L867.8 457 L869.4 456.2 L870.9 455.4 L872.4 454.6 L873.8 453.9 L875.2 453.2 L876.4 452.6 L877.5 452 L878.4 451.6 L879.2 451.2 L880.4 453.4 L879.7 453.7 L878.7 454.2 L877.6 454.8 L876.4 455.4 L875.1 456.1 L873.7 456.8 L872.2 457.6 L870.7 458.4 L869 459.3 L867.4 460.1 L865.7 460.9 L864.1 461.7 L862.4 462.5 L860.6 463.4 L858.8 464.2 L856.9 465.1 L855 466 L853.1 466.9 L851.1 467.8 L849 468.8 L847 469.6 L844.9 470.5 L842.7 471.4 L840.6 472.2 L838.5 473 L836.2 473.7 L834 474.5 L831.7 475.2 L829.4 476 L827 476.7 L824.7 477.4 L822.4 478.1 L820 478.8 L817.7 479.4 L815.4 480 L813.1 480.6 L810.9 481.2 L808.7 481.8 L806.5 482.3 L804.3 482.8 L802.1 483.3 L799.9 483.8 L797.7 484.3 L795.5 484.7 L793.4 485.1 L791.2 485.5 L789.1 485.9 L787 486.3 L784.9 486.7 L782.9 487 L780.9 487.3 L778.9 487.7 L776.9 488 L774.9 488.2 L773 488.5 L771 488.7 L769.1 488.9 L767.1 489.1 L765.2 489.3 L763.2 489.5 L761.3 489.6 L759.4 489.7 L757.6 489.8 L755.8 489.9 L754 489.9 L752.2 490 L750.3 490 L748.5 489.9 L746.5 489.9 L744.6 489.8 L742.5 489.7 L740.4 489.6 L738.1 489.5 L735.9 489.3 L733.5 489 L731.1 488.8 L728.6 488.5 L726.1 488.2 L723.6 487.9 L721.1 487.6 L718.6 487.2 L716 486.9 L713.5 486.6 L711 486.2 L708.5 485.9 L706 485.6 L703.5 485.2 L701 484.9 L698.4 484.5 L695.9 484.1 L693.3 483.7 L690.8 483.4 L688.3 483 L685.7 482.7 L683.1 482.3 L680.6 482 L678.1 481.7 L675.6 481.5 L673.1 481.2 L670.6 481 L668.1 480.7 L665.6 480.5 L663.1 480.3 L660.6 480.1 L658.1 479.9 L655.6 479.6 L653.1 479.4 L650.6 479.2 L647.9 479 L645.2 478.7 L642.5 478.5 L639.8 478.3 L637.1 478 L634.5 477.8 L631.8 477.6 L629.2 477.4 L626.5 477.2 L623.9 477 L621.2 476.8 L618.6 476.6 L615.9 476.5 L613.2 476.4 L610.5 476.3 L607.9 476.2 L605.2 476.1 L602.5 476 L599.9 475.9 L597.2 475.8 L594.6 475.8 L591.9 475.7 L589.3 475.7 L586.7 475.6 L584.1 475.5 L581.4 475.4 L578.8 475.4 L576.2 475.3 L573.6 475.2 L571 475.2 L568.5 475.1 L565.9 475.1 L563.3 475.1 L560.8 475 L558.3 475.1 L555.8 475.1 L553.4 475.1 L551 475.2 L548.6 475.2 L546.2 475.3 L543.9 475.4 L541.5 475.5 L539.2 475.6 L536.9 475.8 L534.5 475.9 L532.2 476.1 L529.8 476.2 L527.4 476.4 L525 476.6 L522.5 476.8 L519.9 477 L517.4 477.3 L514.9 477.5 L512.4 477.7 L509.9 478 L507.4 478.3 L504.9 478.6 L502.4 478.9 L499.9 479.3 L497.5 479.6 L495.1 480 L492.7 480.4 L490.3 480.9 L488 481.3 L485.6 481.8 L483.2 482.3 L480.9 482.8 L478.5 483.3 L476.1 483.9 L473.7 484.4 L471.3 484.9 L468.9 485.4 L466.5 485.9 L464.1 486.4 L461.7 486.9 L459.2 487.4 L456.8 487.9 L454.4 488.4 L452 489 L449.6 489.5 L447.2 490 L444.9 490.6 L442.6 491.1 L440.3 491.7 L438 492.3 L435.8 493 L433.7 493.6 L431.5 494.2 L429.4 494.8 L427.3 495.5 L425.2 496.2 L423.1 496.9 L421 497.6 L418.8 498.3 L416.6 499.1 L414.3 499.9 L411.7 500.9 L409 501.9 L406.3 502.9 L403.5 504 L400.7 505.1 L397.9 506.2 L395.1 507.3 L392.3 508.4 L389.5 509.6 L386.8 510.7 L384.1 511.8 L381.5 512.9 L379.1 514 L376.8 515 L374.4 516 L372.2 517 L369.9 518 L367.7 519 L365.5 520 L363.3 521.1 L361.1 522.1 L359 523.2 L356.8 524.3 L354.6 525.4 L352.4 526.6 L350.2 527.7 L348.1 528.9 L345.9 530 L343.8 531.2 L341.6 532.4 L339.5 533.6 L337.4 534.9 L335.3 536.1 L333.2 537.5 L331.1 538.8 L329 540.2 L327 541.7 L324.9 543.2 L322.8 544.7 L320.7 546.3 L318.6 547.9 L316.5 549.6 L314.4 551.2 L312.3 553 L310.2 554.7 L308.1 556.4 L306.1 558.2 L304 559.9 L302 561.6 L300 563.4 L298.1 565.1 L296.1 566.9 L294.2 568.7 L292.3 570.5 L290.3 572.4 L288.4 574.2 L286.4 576.1 L284.4 578 L282.4 579.9 L280.4 581.7 L278.4 583.5 L276.5 585.2 L274.5 587 L272.6 588.7 L270.6 590.4 L268.7 592.1 L266.7 593.8 L264.7 595.6 L262.7 597.4 L260.7 599.2 L258.7 601.1 L256.7 603 L254.5 605.1 L252.4 607.1 L250.3 609.2 L248.1 611.3 L246 613.5 L243.8 615.7 L241.5 618 L239.3 620.2 L237 622.6 L234.7 624.9 L232.3 627.3 L229.9 629.8 L227.5 632.2 L225 634.7 L222.5 637.2 L220 639.7 L217.4 642.2 L214.8 644.8 L212.2 647.4 L209.6 650.1 L207 652.8 L204.4 655.5 L201.8 658.3 L199.3 661.1 L196.8 663.9 L194.4 666.7 L191.9 669.7 L189.5 672.7 L187 675.7 L184.6 678.9 L182 682 L179.4 685.2 L176.7 688.5 L174 691.7 L171.1 695.1 L168.1 698.4 L164.9 701.7 L161.4 705.2 L157.8 708.8 L154 712.5 L150.2 716.2 L146.4 719.8 L142.7 723.4 L139 726.9 L135.4 730.2 L132.1 733.4 L128.9 736.3 L126 739 L123.5 741.5 L121 743.9 L118.7 746.2 L116.5 748.3 L114.4 750.2 L112.5 752 L110.7 753.7 L109 755.2 L107.5 756.6 L106.2 757.8 L105.1 758.8 L104.1 759.7Z M157.9 766.3 L158.9 765.3 L160.1 764.2 L161.5 763 L162.9 761.7 L164.6 760.2 L166.3 758.6 L168.2 756.8 L170.2 754.9 L172.4 752.8 L174.7 750.6 L177.1 748.3 L179.6 745.8 L182.2 743 L185 739.9 L188.1 736.6 L191.4 733.1 L194.8 729.5 L198.2 725.7 L201.7 722 L205.2 718.1 L208.6 714.4 L211.9 710.7 L215 707.1 L217.9 703.6 L220.7 700.3 L223.4 697.1 L226.1 693.8 L228.7 690.5 L231.2 687.2 L233.7 684 L236.2 680.7 L238.7 677.5 L241.1 674.3 L243.6 671.2 L246.2 668 L248.7 664.9 L251.3 661.9 L253.8 659 L256.3 656.1 L258.9 653.3 L261.4 650.5 L263.9 647.8 L266.3 645.1 L268.8 642.4 L271.2 639.8 L273.5 637.3 L275.8 634.7 L278.1 632.2 L280.3 629.8 L282.4 627.4 L284.6 625.1 L286.6 622.8 L288.7 620.5 L290.7 618.2 L292.7 616 L294.7 613.8 L296.7 611.7 L298.6 609.5 L300.6 607.4 L302.5 605.4 L304.5 603.3 L306.4 601.3 L308.4 599.3 L310.2 597.4 L312.1 595.5 L313.9 593.7 L315.8 591.9 L317.6 590.1 L319.4 588.3 L321.2 586.5 L323 584.7 L324.8 582.9 L326.5 581.1 L328.3 579.4 L330 577.7 L331.7 575.9 L333.5 574.2 L335.2 572.4 L337 570.7 L338.7 568.9 L340.5 567.2 L342.3 565.5 L344.1 563.8 L346 562.1 L347.8 560.5 L349.7 558.9 L351.6 557.3 L353.5 555.7 L355.4 554.1 L357.3 552.5 L359.2 551 L361.2 549.5 L363.1 548 L365.1 546.5 L367 545.1 L369 543.8 L370.9 542.5 L372.9 541.2 L374.8 540 L376.8 538.9 L378.7 537.7 L380.6 536.7 L382.6 535.6 L384.5 534.6 L386.5 533.5 L388.4 532.5 L390.3 531.6 L392.2 530.6 L394.1 529.6 L396 528.7 L397.9 527.8 L399.7 526.9 L401.6 526.1 L403.5 525.2 L405.3 524.4 L407.2 523.6 L409.1 522.7 L411.1 521.9 L413.1 521.1 L415.1 520.3 L417 519.5 L419.1 518.7 L421.1 517.8 L423.2 517 L425.3 516.2 L427.5 515.4 L429.6 514.6 L431.7 513.8 L433.8 513.1 L435.8 512.4 L437.8 511.7 L439.7 511.1 L441.8 510.4 L443.8 509.8 L445.7 509.2 L447.6 508.7 L449.5 508.1 L451.3 507.6 L453.2 507.2 L455 506.7 L456.9 506.2 L458.8 505.8 L460.7 505.4 L462.7 504.9 L464.8 504.4 L467 503.9 L469.2 503.5 L471.4 503 L473.6 502.6 L475.9 502.1 L478.1 501.7 L480.3 501.3 L482.6 500.9 L484.8 500.5 L487 500 L489.1 499.6 L491.2 499.2 L493.2 498.7 L495.2 498.2 L497.2 497.8 L499.2 497.3 L501.3 496.8 L503.3 496.4 L505.3 495.9 L507.3 495.5 L509.4 495.1 L511.4 494.7 L513.5 494.4 L515.6 494 L517.7 493.7 L519.7 493.5 L521.8 493.2 L523.9 493 L526 492.7 L528.1 492.5 L530.2 492.3 L532.3 492.1 L534.4 491.9 L536.5 491.8 L538.6 491.6 L540.7 491.4 L542.8 491.3 L544.9 491.1 L547 491 L549.1 490.9 L551.2 490.8 L553.3 490.7 L555.5 490.6 L557.6 490.5 L559.8 490.4 L561.9 490.4 L564.2 490.3 L566.4 490.3 L568.7 490.3 L571 490.3 L573.3 490.3 L575.6 490.3 L577.9 490.3 L580.3 490.3 L582.6 490.4 L585 490.4 L587.4 490.5 L589.7 490.5 L592.1 490.6 L594.5 490.7 L596.9 490.8 L599.3 490.9 L601.7 491 L604.2 491.1 L606.6 491.2 L609.1 491.4 L611.5 491.5 L614 491.7 L616.4 491.8 L618.9 492 L621.4 492.2 L623.9 492.3 L626.5 492.5 L629.1 492.7 L631.6 492.9 L634.2 493.1 L636.8 493.4 L639.4 493.6 L642 493.8 L644.6 494.1 L647.2 494.3 L649.8 494.5 L652.4 494.8 L655.3 495 L658.1 495.3 L661 495.5 L663.9 495.8 L666.8 496.1 L669.7 496.3 L672.6 496.6 L675.5 496.8 L678.4 497.1 L681.3 497.4 L684.2 497.7 L687 498 L689.7 498.3 L692.5 498.6 L695.2 498.9 L697.8 499.2 L700.5 499.6 L703.2 499.9 L705.9 500.2 L708.5 500.5 L711.1 500.9 L713.8 501.2 L716.4 501.5 L719 501.8 L721.6 502 L724.3 502.3 L726.9 502.6 L729.6 502.8 L732.3 503.1 L734.9 503.4 L737.5 503.6 L740 503.8 L742.5 504 L745 504.2 L747.4 504.3 L749.6 504.4 L751.8 504.4 L753.9 504.5 L755.9 504.5 L757.8 504.5 L759.7 504.4 L761.6 504.4 L763.4 504.3 L765.2 504.2 L767.1 504 L768.9 503.9 L770.8 503.7 L772.8 503.5 L774.8 503.3 L776.7 503.1 L778.7 502.8 L780.7 502.6 L782.7 502.3 L784.7 502 L786.7 501.6 L788.7 501.3 L790.8 500.9 L792.8 500.5 L794.9 500.1 L797 499.7 L799.1 499.3 L801.2 498.8 L803.3 498.4 L805.5 497.9 L807.6 497.4 L809.8 496.9 L811.9 496.4 L814.1 495.8 L816.3 495.2 L818.5 494.7 L820.7 494 L822.9 493.4 L825.1 492.7 L827.3 492 L829.5 491.3 L831.8 490.5 L834.1 489.7 L836.3 488.9 L838.6 488.1 L840.8 487.3 L843 486.4 L845.2 485.6 L847.3 484.7 L849.4 483.8 L851.4 482.9 L853.4 482 L855.4 481 L857.4 480.1 L859.4 479.1 L861.3 478.1 L863.2 477.1 L865.1 476.1 L866.9 475.1 L868.6 474.1 L870.3 473.2 L871.9 472.3 L873.5 471.4 L875.1 470.4 L876.7 469.5 L878.2 468.6 L879.7 467.7 L881.2 466.8 L882.5 465.9 L883.8 465.1 L884.9 464.4 L886 463.7 L886.8 463.1 L887.6 462.6 L888.8 464.8 L888.1 465.3 L887.2 465.9 L886.2 466.5 L885.1 467.3 L883.8 468.1 L882.4 469 L881 469.9 L879.5 470.9 L878 471.8 L876.4 472.8 L874.8 473.7 L873.2 474.7 L871.6 475.6 L869.9 476.6 L868.1 477.5 L866.3 478.6 L864.5 479.6 L862.6 480.6 L860.6 481.7 L858.7 482.7 L856.6 483.7 L854.6 484.7 L852.6 485.7 L850.5 486.6 L848.4 487.5 L846.3 488.4 L844.1 489.3 L841.8 490.2 L839.6 491.1 L837.3 491.9 L835 492.7 L832.7 493.5 L830.5 494.3 L828.2 495.1 L826 495.8 L823.8 496.6 L821.5 497.2 L819.3 497.8 L817.1 498.4 L814.9 499 L812.7 499.6 L810.5 500.1 L808.3 500.7 L806.2 501.2 L804 501.7 L801.9 502.1 L799.7 502.6 L797.6 503 L795.5 503.4 L793.4 503.9 L791.4 504.3 L789.3 504.6 L787.2 505 L785.2 505.3 L783.2 505.7 L781.1 506 L779.1 506.2 L777.1 506.5 L775.1 506.7 L773.1 507 L771.1 507.1 L769.2 507.3 L767.3 507.5 L765.4 507.6 L763.5 507.7 L761.7 507.8 L759.8 507.9 L757.8 507.9 L755.9 508 L753.8 507.9 L751.7 507.9 L749.5 507.9 L747.1 507.8 L744.7 507.6 L742.2 507.5 L739.7 507.3 L737.1 507.1 L734.5 506.8 L731.9 506.6 L729.2 506.3 L726.5 506 L723.9 505.8 L721.2 505.5 L718.6 505.2 L716 505 L713.3 504.7 L710.7 504.3 L708 504 L705.4 503.7 L702.7 503.3 L700.1 503 L697.4 502.7 L694.7 502.4 L692 502 L689.3 501.7 L686.6 501.5 L683.8 501.1 L681 500.8 L678.1 500.5 L675.2 500.2 L672.3 499.9 L669.4 499.6 L666.5 499.3 L663.6 499.1 L660.7 498.8 L657.8 498.5 L655 498.3 L652.1 498 L649.5 497.8 L646.9 497.5 L644.3 497.3 L641.7 497 L639.1 496.8 L636.5 496.6 L634 496.4 L631.4 496.2 L628.8 495.9 L626.3 495.8 L623.7 495.6 L621.2 495.4 L618.7 495.2 L616.3 495.1 L613.8 494.9 L611.4 494.8 L608.9 494.6 L606.5 494.5 L604 494.4 L601.6 494.2 L599.2 494.1 L596.8 494 L594.4 493.9 L592 493.8 L589.6 493.8 L587.3 493.8 L584.9 493.7 L582.6 493.7 L580.2 493.7 L577.9 493.7 L575.5 493.7 L573.2 493.7 L570.9 493.7 L568.7 493.7 L566.4 493.8 L564.2 493.8 L562 493.9 L559.8 494 L557.7 494.1 L555.6 494.2 L553.5 494.3 L551.4 494.4 L549.3 494.5 L547.3 494.7 L545.2 494.8 L543.1 495 L541 495.2 L538.8 495.4 L536.8 495.6 L534.7 495.8 L532.7 496 L530.6 496.3 L528.5 496.5 L526.5 496.7 L524.4 497 L522.3 497.3 L520.3 497.6 L518.2 497.9 L516.2 498.3 L514.2 498.6 L512.2 499 L510.2 499.4 L508.2 499.9 L506.2 500.3 L504.2 500.8 L502.2 501.3 L500.3 501.8 L498.3 502.3 L496.3 502.9 L494.2 503.4 L492.2 503.9 L490.1 504.4 L488 504.8 L485.8 505.3 L483.5 505.7 L481.3 506.2 L479.1 506.6 L476.9 507.1 L474.6 507.5 L472.4 508 L470.3 508.4 L468.1 508.9 L466 509.4 L463.9 509.9 L462 510.4 L460.1 510.9 L458.2 511.4 L456.4 511.9 L454.6 512.4 L452.9 512.9 L451.1 513.4 L449.3 514 L447.4 514.6 L445.6 515.2 L443.6 515.8 L441.6 516.5 L439.8 517.2 L437.9 518 L435.9 518.8 L433.9 519.7 L431.9 520.5 L429.8 521.4 L427.8 522.4 L425.7 523.3 L423.7 524.2 L421.7 525.1 L419.8 526 L417.9 526.9 L415.9 527.8 L414 528.7 L412.1 529.6 L410.3 530.5 L408.4 531.3 L406.6 532.2 L404.8 533.1 L403.1 534 L401.3 534.9 L399.5 535.9 L397.8 536.8 L396 537.8 L394.1 538.8 L392.2 539.9 L390.3 540.9 L388.5 541.9 L386.6 543 L384.8 544 L383 545.1 L381.1 546.3 L379.3 547.4 L377.5 548.6 L375.7 549.8 L373.9 551.1 L372.1 552.4 L370.3 553.8 L368.5 555.2 L366.7 556.7 L364.9 558.2 L363 559.7 L361.2 561.2 L359.4 562.8 L357.6 564.4 L355.8 566 L354 567.7 L352.3 569.3 L350.5 570.9 L348.8 572.6 L347.2 574.3 L345.5 576 L343.8 577.7 L342.1 579.5 L340.5 581.3 L338.8 583.1 L337.1 584.9 L335.4 586.7 L333.6 588.5 L331.9 590.3 L330.1 592.2 L328.3 594 L326.5 595.9 L324.7 597.7 L322.9 599.5 L321.1 601.4 L319.3 603.2 L317.5 605.1 L315.7 607 L313.9 608.9 L312 610.9 L310.1 612.9 L308.3 615 L306.4 617.1 L304.5 619.2 L302.6 621.4 L300.7 623.6 L298.8 625.9 L296.8 628.1 L294.8 630.5 L292.8 632.8 L290.7 635.2 L288.6 637.7 L286.4 640.2 L284.2 642.7 L281.9 645.3 L279.5 647.9 L277.2 650.5 L274.8 653.2 L272.3 655.9 L269.9 658.6 L267.5 661.4 L265 664.2 L262.6 667 L260.2 669.9 L257.8 672.8 L255.3 675.7 L252.9 678.7 L250.5 681.8 L248.1 685 L245.7 688.2 L243.2 691.4 L240.7 694.7 L238.2 698.1 L235.5 701.5 L232.8 704.9 L230 708.3 L227 711.8 L224.1 715.4 L221 719.2 L217.7 723 L214.3 726.9 L210.8 730.8 L207.4 734.8 L204 738.6 L200.6 742.3 L197.4 745.9 L194.4 749.3 L191.6 752.5 L189 755.3 L186.5 757.9 L184 760.3 L181.7 762.5 L179.5 764.6 L177.4 766.6 L175.5 768.4 L173.7 770.1 L172 771.6 L170.5 772.9 L169.2 774.1 L168.1 775.2 L167.1 776.1Z M111.9 720.1 L211.9 746.1 L193.7 764.7 L93.7 738.7Z M153.7 683.1 L245.7 704.1 L232.3 718.9 L140.3 697.9Z M184.3 648 L274.3 666 L263.7 678 L173.7 660Z M215.7 617.6 L302.7 633.6 L292.3 644.4 L205.3 628.4Z M244 591.7 L325 606.7 L315.2 616.7 L234.2 601.7Z M268.3 571.3 L346.3 584.3 L336.9 593.3 L258.9 580.3Z M293.9 549.7 L365.9 563.7 L356.1 572.3 L284.1 558.3Z M321.4 530.3 L387.4 546.3 L376.6 553.7 L310.6 537.7Z M349.2 516 L409.2 534 L397.6 540 L337.6 522Z M378.3 504.1 L430.3 524.1 L418.3 529.1 L366.3 509.1Z M414.1 491.9 L452.1 514.9 L439.9 519.1 L401.9 496.1Z M442.1 484.6 L473.6 508.9 L460.9 512 L429.4 487.7Z M470.9 478.8 L498.9 503.8 L487.1 506.2 L459.1 481.2Z M499.9 473.6 L521.9 498.6 L511.1 500.4 L489.1 475.4Z M530.5 471.1 L545.5 496.1 L535.5 496.9 L520.5 471.9Z M559.5 470.3 L570.5 495 L560.5 495.1 L549.5 470.4Z M590.9 471.2 L597.9 495.2 L587.9 495 L580.9 471Z M623.3 472.4 L626.7 497.1 L616.7 496.4 L613.3 471.7Z M655.5 475.1 L657.5 499.8 L647.5 498.9 L645.5 474.2Z M684.8 477.7 L692.8 503.3 L682.8 502.3 L674.8 476.7Z M715 482.1 L725 507.1 L715 505.9 L705 480.9Z M744 485.2 L756 509.2 L746 508.8 L734 484.8Z M767 484.5 L780 507.5 L769 508.5 L756 485.5Z M790.9 480.9 L804.9 502.9 L793.1 505.1 L779.1 483.1Z M816.8 474.9 L830.8 495.9 L819.2 499.1 L805.2 478.1Z M843.6 466.5 L856.6 485.5 L846.4 489.5 L833.4 470.5Z M866.4 456.2 L878.4 473.2 L869.6 477.8 L857.6 460.8Z M882.4 448.3 L893.4 463.3 L885.6 467.7 L874.6 452.7Z"/>
<path d="M862 417 L882 424 L883 460 L862 466Z" fill="#2e2e2e" stroke="#111" stroke-width="1.3" stroke-linejoin="round"/>
<path d="M862 417 L882 424 L882 443 L862 443Z" fill="#e8b466" stroke="#111" stroke-width="1.3" stroke-linejoin="round"/>
<path d="M862 443 L882 443 L882 446 L862 446Z" fill="#1f5f8f"/>
<path d="M862 446 L882 446 L882 453 L862 455Z" fill="#8f1d1d" stroke="#111" stroke-width="1.3" stroke-linejoin="round"/>
<path d="M866 428 L866 437 M869 429 L869 438 M873 430 L873 439 M876 431 L876 440 M879 432 L879 440" stroke="#111" stroke-width="1.1"/>
<path d="M824 407 L862 420 L862 462 L824 472Z" fill="#2e2e2e" stroke="#111" stroke-width="1.3" stroke-linejoin="round"/>
<path d="M824 407 L862 420 L862 442 L824 443Z" fill="#3a92b8" stroke="#111" stroke-width="1.3" stroke-linejoin="round"/>
<path d="M830 409 L862 420" stroke="#d0d0d0" stroke-width="3"/>
<path d="M824 407 L831 409.5 L831 443 L824 443Z" fill="#1a5a86" stroke="#111" stroke-width="1"/>
<path d="M824 443 L862 442 L862 444.5 L824 445.5Z" fill="#d0d0d0"/>
<path d="M824 445.5 L862 444.5 L862 458 L824 462Z" fill="#3d5e50" stroke="#111" stroke-width="1.3" stroke-linejoin="round"/>
<path d="M826 462 L862 458 L862 461 L826 466Z" fill="#d8d8d8"/>
<path d="M829 467 L843 465 L842 473 L836 470 L830 474Z M851 464 L861 462 L861 468 L855 466 L852 469Z" fill="#d8d8d8" stroke="#111" stroke-width="0.8"/>
<path d="M866 458 L870 457.5 L870 461 L866 462Z M873 457 L877 456.5 L877 460 L873 461Z" fill="#888"/>
<path d="M835 420 L835 433 M838 421 L838 434 M841 421 L841 434 M848 423 L848 436 M851 423 L851 436 M856 425 L856 437 M859 425 L859 437 M845 412 L845 457 M854 416 L854 455" stroke="#111" stroke-width="1.1"/>
<path d="M778 389 L823 404 L823 418 L778 414Z" fill="#e8b466" stroke="#111" stroke-width="1.3" stroke-linejoin="round"/>
<path d="M778 414 L823 418 L823 447 L778 449Z" fill="#8f1d1d" stroke="#111" stroke-width="1.3" stroke-linejoin="round"/>
<path d="M778 449 L823 447 L823 453 L778 456Z" fill="#c8c8c8" stroke="#111" stroke-width="1.3" stroke-linejoin="round"/>
<path d="M778 456 L823 453 L823 479 L800 486 L778 491Z" fill="#3a3a3a" stroke="#111" stroke-width="1.3" stroke-linejoin="round"/>
<path d="M788 462 L800 461 L800 482 L794 484 L788 483Z M805 459 L814 458 L814 476 L805 478Z" fill="#cfcfcf" stroke="#111" stroke-width="1"/>
<path d="M792 398 L809 403 L809 414 L792 411Z" fill="none" stroke="#111" stroke-width="1.3"/>
<rect x="814" y="405" width="4" height="11" fill="#555" stroke="#111" stroke-width="0.8"/>
<path d="M793 418 L806 419 L806 434 L793 433Z" fill="#a33030" stroke="#111" stroke-width="1"/>
<path d="M799 434 L799 452 M809 421 L809 440" stroke="#111" stroke-width="1.2"/>
<rect x="814" y="420" width="4.5" height="16" fill="#6a1010" stroke="#111" stroke-width="0.8"/>
<path d="M778 414 L782 414.5 L782 449 L778 449Z" fill="#444"/>
<path d="M687 391 L721 378 L734 377 L773 389Z" fill="#4d4d4d" stroke="#111" stroke-width="1.3" stroke-linejoin="round"/>
<path d="M687 390 L778 389 L778 448 L687 449Z" fill="#e8b466" stroke="#111" stroke-width="1.3" stroke-linejoin="round"/>
<path d="M687 413.5 L778 412.5" stroke="#111" stroke-width="1.1"/>
<rect x="695" y="393" width="30" height="19" rx="2" fill="#6b7f8e" stroke="#111" stroke-width="1.3"/>
<rect x="732" y="391" width="30" height="19" rx="2" fill="#6b7f8e" stroke="#111" stroke-width="1.3"/>
<rect x="715" y="414" width="30" height="10" rx="3" fill="#e8b466" stroke="#111" stroke-width="1.1"/>
<path d="M719.5 418 L726 418 M733 418 L740 418" stroke="#111" stroke-width="1.8"/>
<rect x="697" y="430" width="10" height="16" rx="2" fill="#e0a550" stroke="#111" stroke-width="1"/><rect x="697" y="431" width="9" height="8" rx="2" fill="#efc27a"/><circle cx="702" cy="435.5" r="2.3" fill="#cfd6dc" stroke="#111" stroke-width="1.1"/>
<rect x="753" y="430" width="10" height="16" rx="2" fill="#e0a550" stroke="#111" stroke-width="1"/><rect x="753" y="431" width="9" height="8" rx="2" fill="#efc27a"/><circle cx="758" cy="435.5" r="2.3" fill="#cfd6dc" stroke="#111" stroke-width="1.1"/>
<path d="M687 447 L778 446 L778 452 L687 453Z" fill="#1b5e8f"/>
<path d="M687 453 L778 452 L778 494 L689 495Z" fill="#7a0000" stroke="#111" stroke-width="1.3" stroke-linejoin="round"/>
<path d="M690 460 L696 460 M766 459 L773 459" stroke="#111" stroke-width="1.1"/>
<rect x="696" y="469" width="24" height="28" fill="#9a9a9a" stroke="#111" stroke-width="1.3"/>
<rect x="742" y="468" width="24" height="27" fill="#9a9a9a" stroke="#111" stroke-width="1.3"/>
<path d="M700.5 472 V495 M705.5 472 V495 M710.5 472 V495 M715.5 472 V495 M746.5 471 V493 M751.5 471 V493 M756.5 471 V493 M761.5 471 V493" stroke="#5a0000" stroke-width="2"/>
<rect x="721" y="478" width="16" height="15" rx="2" fill="#9a9a9a" stroke="#111" stroke-width="1.1"/>
<path d="M726 481 V490 M732 481 V490" stroke="#111" stroke-width="1"/>
<rect x="695" y="493" width="73" height="6" fill="#a0a0a0" stroke="#111" stroke-width="1.2"/>
<rect x="774" y="453" width="5.5" height="35" fill="#c8c8c8" stroke="#111" stroke-width="1"/>
<ellipse cx="131.8" cy="715.5" rx="11.6" ry="4.8" fill="#f5a623" stroke="#1a1a1a" stroke-width="0.8"/>
<path d="M131.8 715.5 Q119.3 702.5 111.4 689.5 A25.9 25.9 0 1 1 152.2 689.5 Q144.3 702.5 131.8 715.5 Z" fill="#e84848" stroke="#111" stroke-width="1.6" stroke-linejoin="round"/>
<circle cx="131.8" cy="673.5" r="22.1" fill="#f1f1f1" stroke="#111" stroke-width="1.5"/>
<g transform="translate(131.8 673.5) scale(1.0000)"><rect x="-10.4" y="-15.8" width="20.4" height="21" rx="1.8" fill="#111"/><rect x="-9" y="-14.4" width="17.6" height="2.8" fill="#b8b8b8"/><rect x="-9" y="-10.6" width="7.9" height="7.1" fill="#42a5f5"/><rect x="0.2" y="-10.6" width="8.4" height="7.1" fill="#42a5f5"/><rect x="-9" y="-2" width="17.6" height="5.6" fill="#b8b8b8"/><rect x="-7" y="0" width="2.6" height="1.1" fill="#111"/><rect x="3.4" y="0" width="2.6" height="1.1" fill="#111"/><path d="M-8.2 5 L-11.5 15 M7.8 5 L11 15 M-8 9 L7.6 9" stroke="#111" stroke-width="1.7" fill="none"/></g>
<ellipse cx="281.3" cy="572.6" rx="11.7" ry="4.8" fill="#f5a623" stroke="#1a1a1a" stroke-width="0.8"/>
<path d="M281.3 572.6 Q268.6 559.1 260.6 545.6 A26.1 26.1 0 1 1 302 545.6 Q294 559.1 281.3 572.6 Z" fill="#e84848" stroke="#111" stroke-width="1.7" stroke-linejoin="round"/>
<circle cx="281.3" cy="529.7" r="22.3" fill="#f1f1f1" stroke="#111" stroke-width="1.5"/>
<g transform="translate(281.3 529.7) scale(1.0079)"><rect x="-10.4" y="-15.8" width="20.4" height="21" rx="1.8" fill="#111"/><rect x="-9" y="-14.4" width="17.6" height="2.8" fill="#b8b8b8"/><rect x="-9" y="-10.6" width="7.9" height="7.1" fill="#42a5f5"/><rect x="0.2" y="-10.6" width="8.4" height="7.1" fill="#42a5f5"/><rect x="-9" y="-2" width="17.6" height="5.6" fill="#b8b8b8"/><rect x="-7" y="0" width="2.6" height="1.1" fill="#111"/><rect x="3.4" y="0" width="2.6" height="1.1" fill="#111"/><path d="M-8.2 5 L-11.5 15 M7.8 5 L11 15 M-8 9 L7.6 9" stroke="#111" stroke-width="1.7" fill="none"/></g>
<ellipse cx="414.6" cy="497.2" rx="10.1" ry="4.2" fill="#f5a623" stroke="#1a1a1a" stroke-width="0.7"/>
<path d="M414.6 497.2 Q403.5 484.8 396.4 472.3 A22.5 22.5 0 1 1 432.8 472.3 Q425.7 484.8 414.6 497.2 Z" fill="#e84848" stroke="#111" stroke-width="1.4" stroke-linejoin="round"/>
<circle cx="414.6" cy="459" r="19.2" fill="#f1f1f1" stroke="#111" stroke-width="1.3"/>
<g transform="translate(414.6 459) scale(0.8696)"><rect x="-10.4" y="-15.8" width="20.4" height="21" rx="1.8" fill="#111"/><rect x="-9" y="-14.4" width="17.6" height="2.8" fill="#b8b8b8"/><rect x="-9" y="-10.6" width="7.9" height="7.1" fill="#42a5f5"/><rect x="0.2" y="-10.6" width="8.4" height="7.1" fill="#42a5f5"/><rect x="-9" y="-2" width="17.6" height="5.6" fill="#b8b8b8"/><rect x="-7" y="0" width="2.6" height="1.1" fill="#111"/><rect x="3.4" y="0" width="2.6" height="1.1" fill="#111"/><path d="M-8.2 5 L-11.5 15 M7.8 5 L11 15 M-8 9 L7.6 9" stroke="#111" stroke-width="1.7" fill="none"/></g>
<ellipse cx="591.9" cy="470.7" rx="9.1" ry="3.7" fill="#f5a623" stroke="#1a1a1a" stroke-width="0.6"/>
<path d="M591.9 470.7 Q582 459.7 575.7 448.7 A20.2 20.2 0 1 1 608.1 448.7 Q601.8 459.7 591.9 470.7 Z" fill="#e84848" stroke="#111" stroke-width="1.3" stroke-linejoin="round"/>
<circle cx="591.9" cy="436.7" r="17.2" fill="#f1f1f1" stroke="#111" stroke-width="1.2"/>
<g transform="translate(591.9 436.7) scale(0.7787)"><rect x="-10.4" y="-15.8" width="20.4" height="21" rx="1.8" fill="#111"/><rect x="-9" y="-14.4" width="17.6" height="2.8" fill="#b8b8b8"/><rect x="-9" y="-10.6" width="7.9" height="7.1" fill="#42a5f5"/><rect x="0.2" y="-10.6" width="8.4" height="7.1" fill="#42a5f5"/><rect x="-9" y="-2" width="17.6" height="5.6" fill="#b8b8b8"/><rect x="-7" y="0" width="2.6" height="1.1" fill="#111"/><rect x="3.4" y="0" width="2.6" height="1.1" fill="#111"/><path d="M-8.2 5 L-11.5 15 M7.8 5 L11 15 M-8 9 L7.6 9" stroke="#111" stroke-width="1.7" fill="none"/></g>
<ellipse cx="461.7" cy="363.6" rx="8.9" ry="3.7" fill="#f5a623" stroke="#1a1a1a" stroke-width="0.6"/>
<path d="M461.7 363.6 Q452.1 353.4 446 343.1 A19.8 19.8 0 1 1 477.4 343.1 Q471.3 353.4 461.7 363.6 Z" fill="#e84848" stroke="#111" stroke-width="1.3" stroke-linejoin="round"/>
<circle cx="461.7" cy="331.1" r="16.9" fill="#f1f1f1" stroke="#111" stroke-width="1.2"/>
<g transform="translate(461.7 331.1) scale(0.7628)"><rect x="-10.4" y="-15.8" width="20.4" height="21" rx="1.8" fill="#111"/><rect x="-9" y="-14.4" width="17.6" height="2.8" fill="#b8b8b8"/><rect x="-9" y="-10.6" width="7.9" height="7.1" fill="#42a5f5"/><rect x="0.2" y="-10.6" width="8.4" height="7.1" fill="#42a5f5"/><rect x="-9" y="-2" width="17.6" height="5.6" fill="#b8b8b8"/><rect x="-7" y="0" width="2.6" height="1.1" fill="#111"/><rect x="3.4" y="0" width="2.6" height="1.1" fill="#111"/><path d="M-8.2 5 L-11.5 15 M7.8 5 L11 15 M-8 9 L7.6 9" stroke="#111" stroke-width="1.7" fill="none"/></g>
<ellipse cx="358.9" cy="325.4" rx="8.9" ry="3.7" fill="#f5a623" stroke="#1a1a1a" stroke-width="0.6"/>
<path d="M358.9 325.4 Q349.3 315.3 343.2 305.2 A19.9 19.9 0 1 1 374.6 305.2 Q368.5 315.3 358.9 325.4 Z" fill="#e84848" stroke="#111" stroke-width="1.3" stroke-linejoin="round"/>
<circle cx="358.9" cy="293" r="17" fill="#f1f1f1" stroke="#111" stroke-width="1.2"/>
<g transform="translate(358.9 293) scale(0.7668)"><rect x="-10.4" y="-15.8" width="20.4" height="21" rx="1.8" fill="#111"/><rect x="-9" y="-14.4" width="17.6" height="2.8" fill="#b8b8b8"/><rect x="-9" y="-10.6" width="7.9" height="7.1" fill="#42a5f5"/><rect x="0.2" y="-10.6" width="8.4" height="7.1" fill="#42a5f5"/><rect x="-9" y="-2" width="17.6" height="5.6" fill="#b8b8b8"/><rect x="-7" y="0" width="2.6" height="1.1" fill="#111"/><rect x="3.4" y="0" width="2.6" height="1.1" fill="#111"/><path d="M-8.2 5 L-11.5 15 M7.8 5 L11 15 M-8 9 L7.6 9" stroke="#111" stroke-width="1.7" fill="none"/></g>
<ellipse cx="552.1" cy="318.2" rx="7.7" ry="3.2" fill="#f5a623" stroke="#1a1a1a" stroke-width="0.5"/>
<path d="M552.1 318.2 Q543.9 309.8 538.6 301.3 A17.2 17.2 0 1 1 565.6 301.3 Q560.3 309.8 552.1 318.2 Z" fill="#e84848" stroke="#111" stroke-width="1.1" stroke-linejoin="round"/>
<circle cx="552.1" cy="290.6" r="14.7" fill="#f1f1f1" stroke="#111" stroke-width="1"/>
<g transform="translate(552.1 290.6) scale(0.6640)"><rect x="-10.4" y="-15.8" width="20.4" height="21" rx="1.8" fill="#111"/><rect x="-9" y="-14.4" width="17.6" height="2.8" fill="#b8b8b8"/><rect x="-9" y="-10.6" width="7.9" height="7.1" fill="#42a5f5"/><rect x="0.2" y="-10.6" width="8.4" height="7.1" fill="#42a5f5"/><rect x="-9" y="-2" width="17.6" height="5.6" fill="#b8b8b8"/><rect x="-7" y="0" width="2.6" height="1.1" fill="#111"/><rect x="3.4" y="0" width="2.6" height="1.1" fill="#111"/><path d="M-8.2 5 L-11.5 15 M7.8 5 L11 15 M-8 9 L7.6 9" stroke="#111" stroke-width="1.7" fill="none"/></g>
<ellipse cx="588.5" cy="367.4" rx="5" ry="2.1" fill="#f5a623" stroke="#1a1a1a" stroke-width="0.4"/>
<path d="M588.5 367.4 Q583.2 361.9 579.8 356.5 A11.1 11.1 0 1 1 597.2 356.5 Q593.8 361.9 588.5 367.4 Z" fill="#e84848" stroke="#111" stroke-width="0.7" stroke-linejoin="round"/>
<circle cx="588.5" cy="349.6" r="9.5" fill="#f1f1f1" stroke="#111" stroke-width="0.6"/>
<g transform="translate(588.5 349.6) scale(0.4269)"><rect x="-10.4" y="-15.8" width="20.4" height="21" rx="1.8" fill="#111"/><rect x="-9" y="-14.4" width="17.6" height="2.8" fill="#b8b8b8"/><rect x="-9" y="-10.6" width="7.9" height="7.1" fill="#42a5f5"/><rect x="0.2" y="-10.6" width="8.4" height="7.1" fill="#42a5f5"/><rect x="-9" y="-2" width="17.6" height="5.6" fill="#b8b8b8"/><rect x="-7" y="0" width="2.6" height="1.1" fill="#111"/><rect x="3.4" y="0" width="2.6" height="1.1" fill="#111"/><path d="M-8.2 5 L-11.5 15 M7.8 5 L11 15 M-8 9 L7.6 9" stroke="#111" stroke-width="1.7" fill="none"/></g>
<ellipse cx="627.5" cy="320.6" rx="3.8" ry="1.6" fill="#f5a623" stroke="#1a1a1a" stroke-width="0.4"/>
<path d="M627.5 320.6 Q623.4 316.1 620.7 311.6 A8.5 8.5 0 1 1 634.3 311.6 Q631.6 316.1 627.5 320.6 Z" fill="#e84848" stroke="#111" stroke-width="0.7" stroke-linejoin="round"/>
<circle cx="627.5" cy="306.5" r="7.3" fill="#f1f1f1" stroke="#111" stroke-width="0.6"/>
<g transform="translate(627.5 306.5) scale(0.3281)"><rect x="-10.4" y="-15.8" width="20.4" height="21" rx="1.8" fill="#111"/><rect x="-9" y="-14.4" width="17.6" height="2.8" fill="#b8b8b8"/><rect x="-9" y="-10.6" width="7.9" height="7.1" fill="#42a5f5"/><rect x="0.2" y="-10.6" width="8.4" height="7.1" fill="#42a5f5"/><rect x="-9" y="-2" width="17.6" height="5.6" fill="#b8b8b8"/><rect x="-7" y="0" width="2.6" height="1.1" fill="#111"/><rect x="3.4" y="0" width="2.6" height="1.1" fill="#111"/><path d="M-8.2 5 L-11.5 15 M7.8 5 L11 15 M-8 9 L7.6 9" stroke="#111" stroke-width="1.7" fill="none"/></g>
</svg>
</body></html>
